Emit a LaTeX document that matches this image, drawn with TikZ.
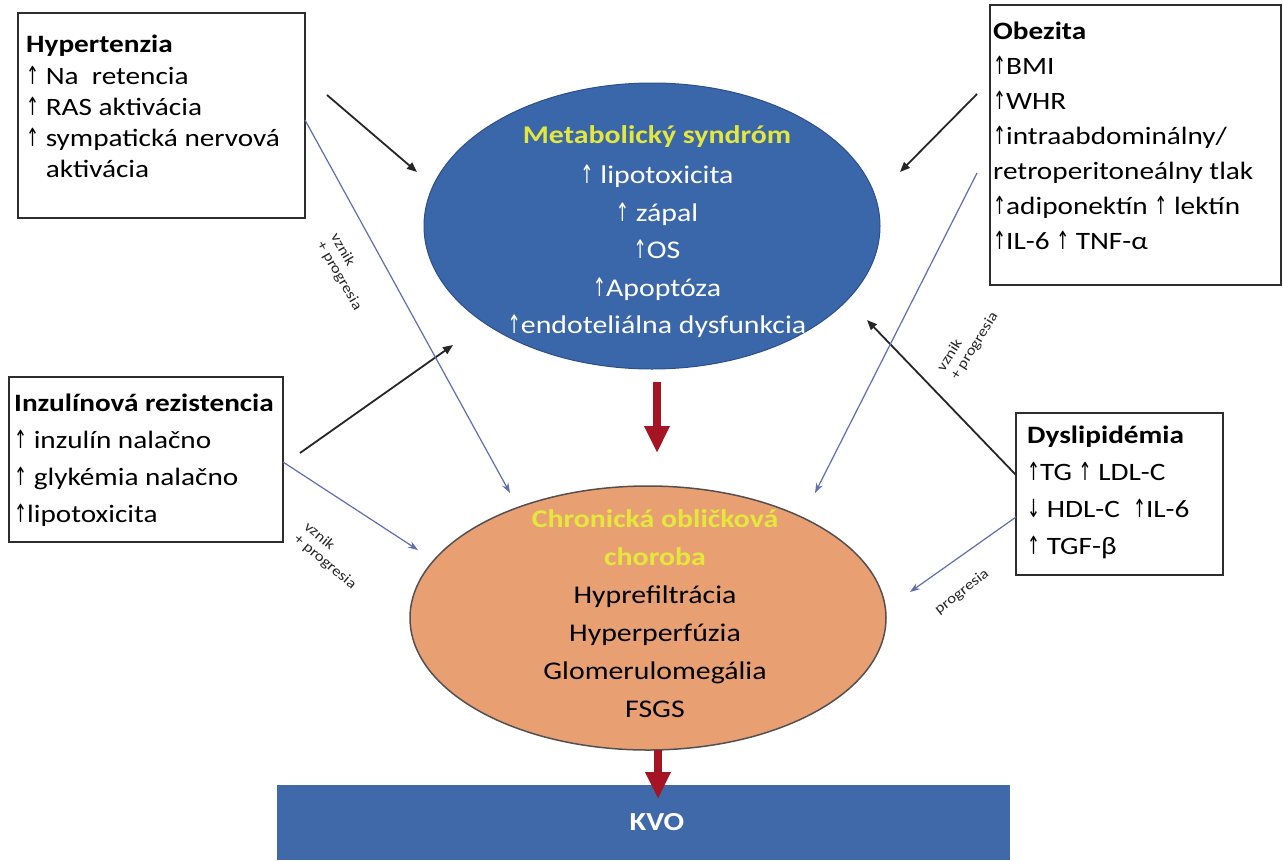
\documentclass[tikz,border=0pt]{standalone}
\usepackage{fontspec}
\setmainfont{Carlito}[FakeStretch=1.17]
\newfontfamily\arrfont{DejaVu Sans}[FakeStretch=0.62]
\usetikzlibrary{shapes.geometric,arrows.meta}
\definecolor{metblue}{RGB}{58,102,170}
\definecolor{metedge}{RGB}{45,80,140}
\definecolor{kvoblue}{RGB}{63,105,168}
\definecolor{ckdorange}{RGB}{232,160,115}
\definecolor{ckdedge}{RGB}{85,80,80}
\definecolor{ytitle}{RGB}{228,232,60}
\definecolor{darkred}{RGB}{165,20,35}
\definecolor{thinblue}{RGB}{95,110,175}
\definecolor{boxgray}{RGB}{45,45,45}
\newcommand{\ua}{{\arrfont ↑}}
\newcommand{\da}{{\arrfont ↓}}
\begin{document}
\begin{tikzpicture}[x=1pt,y=-1pt,
  srcbox/.style={draw=boxgray, line width=1.8pt, fill=white, inner sep=0pt},
  txt/.style={inner sep=0pt, align=left, text=black},
  ctxt/.style={inner sep=0pt, align=center},
  blackarr/.style={draw=black!85, line width=1.8pt, -{Triangle[length=10pt,width=8pt]}},
  bluearr/.style={draw=thinblue, line width=1.2pt, -{Stealth[length=10pt,width=7pt]}},
  redarr/.style={draw=darkred, line width=8pt, -{Triangle[length=27pt,width=24pt]}},
  lbl/.style={inner sep=0pt, align=left, font=\fontsize{14.5}{16}\selectfont, text=black!85}]
\useasboundingbox (0,0) rectangle (1283,860);
\fill[white] (0,0) rectangle (1283,860);

% ellipses
\node[ellipse, draw=metedge, line width=1pt, fill=metblue, minimum width=456pt, minimum height=286pt, inner sep=0pt] (met) at (652,226) {};
\node[ellipse, draw=ckdedge, line width=1.5pt, fill=ckdorange, minimum width=476pt, minimum height=264pt, inner sep=0pt] (ckd) at (648,618) {};

% KVO bar
\node[fill=kvoblue, minimum width=733pt, minimum height=75pt, inner sep=0pt] (kvo) at (643.5,822.5) {};
\node[ctxt, text=white, font=\fontsize{26}{30}\selectfont\bfseries] (kvotxt) at (657,822) {KVO};

% boxes
\node[srcbox, minimum width=287pt, minimum height=205pt] (hyp) at (161.5,115.5) {};
\node[srcbox, minimum width=291pt, minimum height=280pt] (obe) at (1135.5,145) {};
\node[srcbox, minimum width=274pt, minimum height=165pt] (inz) at (146,459.5) {};
\node[srcbox, minimum width=207pt, minimum height=162pt] (dys) at (1119.5,494) {};

% box texts
\node[txt, anchor=north west, font=\fontsize{25}{31.3}\selectfont] (hyptxt) at (26,35)
  {\textbf{Hypertenzia}\\ \ua{} Na\ \ retencia\\ \ua{} RAS aktivácia\\ \ua{} sympatická nervová\\ \phantom{\ua{} }aktivácia};
\node[txt, anchor=north west, font=\fontsize{25}{35}\selectfont] (obetxt) at (993,22)
  {\textbf{Obezita}\\ \ua BMI\\ \ua WHR\\ \ua intraabdominálny/\\ retroperitoneálny tlak\\ \ua adiponektín \ua{} lektín\\ \ua IL-6 \ua{} TNF-α};
\node[txt, anchor=north west, font=\fontsize{25}{37}\selectfont] (inztxt) at (14,394)
  {\textbf{Inzulínová rezistencia}\\ \ua{} inzulín nalačno\\ \ua{} glykémia nalačno\\ \ua lipotoxicita};
\node[txt, anchor=north west, font=\fontsize{25}{37}\selectfont] (dystxt) at (1027,426)
  {\textbf{Dyslipidémia}\\ \ua TG \ua{} LDL-C\\ \da{} HDL-C\ \ \ua IL-6\\ \ua{} TGF-β};

% ellipse texts
\node[ctxt, anchor=north, text=white, font=\fontsize{25.5}{37.5}\selectfont] (mettxt) at (657,125)
  {{\color{ytitle}\textbf{Metabolický syndróm}}\\[3pt] \ua{} lipotoxicita\\ \ua{} zápal\\ \ua OS\\ \ua Apoptóza\\ \ua endoteliálna dysfunkcia};
\node[ctxt, anchor=north, text=black, font=\fontsize{25.5}{38}\selectfont] (ckdtxt) at (655,509)
  {{\color{ytitle}\textbf{Chronická obličková}}\\ {\color{ytitle}\textbf{choroba}}\\ Hyprefiltrácia\\ Hyperperfúzia\\ Glomerulomegália\\ FSGS};

% coordinates
\coordinate (a1s) at (327,95);   \coordinate (a1e) at (417,172);
\coordinate (a2s) at (977,94);   \coordinate (a2e) at (900,172);
\coordinate (a3s) at (300,453);  \coordinate (a3e) at (453,345);
\coordinate (a4s) at (1016,475); \coordinate (a4e) at (867,320);
\coordinate (b1s) at (305,120);  \coordinate (b1e) at (510,493);
\coordinate (b2s) at (283,462);  \coordinate (b2e) at (418,550);
\coordinate (b3s) at (977,173);  \coordinate (b3e) at (815,493);
\coordinate (b4s) at (1016,517); \coordinate (b4e) at (910,592);
\coordinate (r1s) at (657,382);  \coordinate (r1e) at (657,453);
\coordinate (r2s) at (658,750);  \coordinate (r2e) at (658,799);

% black arrows
\draw[blackarr] (a1s) -- (a1e);
\draw[blackarr] (a2s) -- (a2e);
\draw[blackarr] (a3s) -- (a3e);
\draw[blackarr] (a4s) -- (a4e);
% blue arrows
\draw[bluearr] (b1s) -- (b1e);
\draw[bluearr] (b2s) -- (b2e);
\draw[bluearr] (b3s) -- (b3e);
\draw[bluearr] (b4s) -- (b4e);
% red arrows
\draw[redarr] (r1s) -- (r1e);
\draw[redarr] (r2s) -- (r2e);

% labels
\node[lbl, rotate=-60] (l1) at (346,272) {vznik\\ + progresia};
\node[lbl, rotate=-40] (l2) at (330,556) {vznik\\ + progresia};
\node[lbl, rotate=58] (l3) at (968,342) {vznik\\ + progresia};
\node[lbl, rotate=38] (l4) at (962,592) {progresia};
\end{tikzpicture}
\end{document}
